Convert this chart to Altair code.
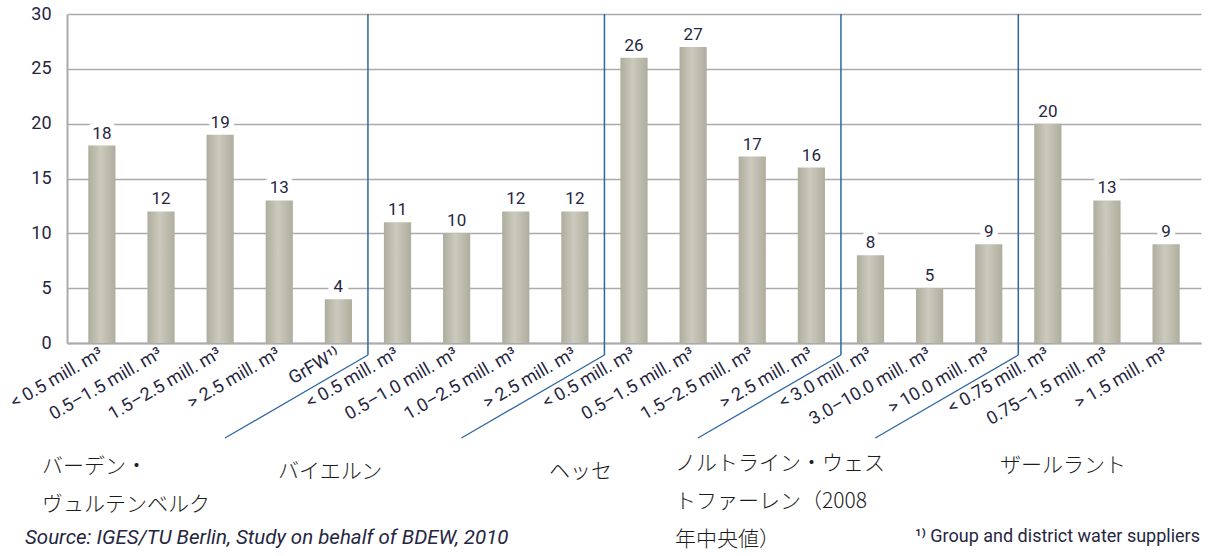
import altair as alt
import pandas as pd

# Federal states (display text with manual line breaks)
state_lines = [
    "バーデン・\nヴュルテンベルク",
    "バイエルン",
    "ヘッセ",
    "ノルトライン・ウェス\nトファーレン（2008\n年中央値）",
    "ザールラント",
]

# Supplier size classes per state
bw_classes = ["< 0.5 mill. m³", "0.5–1.5 mill. m³", "1.5–2.5 mill. m³", "> 2.5 mill. m³", "GrFW¹⁾"]
by_classes = ["< 0.5 mill. m³", "0.5–1.0 mill. m³", "1.0–2.5 mill. m³", "> 2.5 mill. m³"]
he_classes = ["< 0.5 mill. m³", "0.5–1.5 mill. m³", "1.5–2.5 mill. m³", "> 2.5 mill. m³"]
nw_classes = ["< 3.0 mill. m³", "3.0–10.0 mill. m³", "> 10.0 mill. m³"]
sl_classes = ["< 0.75 mill. m³", "0.75–1.5 mill. m³", "> 1.5 mill. m³"]

# Values per size class
bw_values = [18, 12, 19, 13, 4]
by_values = [11, 10, 12, 12]
he_values = [26, 27, 17, 16]
nw_values = [8, 5, 9]
sl_values = [20, 13, 9]

y_ticks = [0, 5, 10, 15, 20, 25, 30]

source_text = "Source: IGES/TU Berlin, Study on behalf of BDEW, 2010"
footnote_text = "¹⁾ Group and district water suppliers"

groups = [
    (bw_classes, bw_values),
    (by_classes, by_values),
    (he_classes, he_values),
    (nw_classes, nw_values),
    (sl_classes, sl_values),
]

rows = []
i = 0
for g, (classes, values) in enumerate(groups):
    for j, (c, v) in enumerate(zip(classes, values)):
        rows.append({
            "key": f"{i:02d}|{c}",
            "value": v,
            "group": g,
            "sep": g > 0 and j == 0,
        })
        i += 1
df = pd.DataFrame(rows)

# ---- layout ----
W, H = 1134, 329
P_INNER, P_OUTER = 0.54, 0.36
step = W / (len(df) - P_INNER + 2 * P_OUTER)
half_step = step / 2

TEXT = "#26263f"
GRID = "#ababab"
BLUE = "#2d67a0"
LATIN = "Roboto, sans-serif"
CJK = "Noto Sans CJK JP"

x_enc = alt.X(
    "key:N",
    sort=None,
    scale=alt.Scale(paddingInner=P_INNER, paddingOuter=P_OUTER),
    axis=alt.Axis(
        title=None,
        labelExpr="split(datum.value, '|')[1]",
        labelAngle=330,
        labelAlign="right",
        labelBaseline="middle",
        labelPadding=9,
        labelOverlap=False,
        labelFont=LATIN,
        labelFontSize=18,
        labelColor=TEXT,
        ticks=False,
        domainColor=GRID,
        domainWidth=2,
    ),
)
y_enc = alt.Y(
    "value:Q",
    scale=alt.Scale(domain=[0, 30], nice=False),
    axis=alt.Axis(
        title=None,
        values=y_ticks,
        grid=True,
        gridColor=GRID,
        gridWidth=1.6,
        ticks=False,
        domainColor=GRID,
        domainWidth=2,
        labelPadding=16,
        labelFont=LATIN,
        labelFontSize=18,
        labelColor=TEXT,
    ),
)

base = alt.Chart(df)

bars = base.mark_bar(
    color=alt.Gradient(
        gradient="linear",
        x1=0, x2=1, y1=0, y2=0,
        stops=[
            alt.GradientStop(color="#afad9d", offset=0),
            alt.GradientStop(color="#cccabd", offset=0.45),
            alt.GradientStop(color="#afad9d", offset=1),
        ],
    )
).encode(x=x_enc, y=y_enc)

# white halo behind value labels interrupts the grid lines
halo = base.mark_text(
    baseline="bottom", dy=-3, font=LATIN, fontSize=17,
    color="white", stroke="white", strokeWidth=11, strokeJoin="round",
).encode(x="key:N", y="value:Q", text="value:Q")

labels = base.mark_text(
    baseline="bottom", dy=-3, font=LATIN, fontSize=17, color=TEXT,
).encode(x="key:N", y="value:Q", text="value:Q")

# state separators: vertical line between groups and a slanted tail below the axis
sep_v = base.transform_filter("datum.sep").mark_rule(
    color=BLUE, strokeWidth=1.5, xOffset=-half_step
).encode(x="key:N", y=alt.value(0), y2=alt.value(341))

sep_d = base.transform_filter("datum.sep").mark_rule(
    color=BLUE, strokeWidth=1.3, xOffset=-half_step, x2Offset=-half_step - 143
).encode(x="key:N", x2=alt.X2("key"), y=alt.value(341), y2=alt.value(424))

# state names below the chart
state_pos = [(-25, 459), (211, 464), (482, 464), (608, 456), (933, 458)]
state_layers = []
for name, (px, py) in zip(state_lines, state_pos):
    state_layers.append(
        alt.Chart(pd.DataFrame({"t": [name]})).mark_text(
            align="left", baseline="alphabetic", font=CJK, fontSize=21,
            fontWeight=300, color="#1c1c1c", lineBreak="\n", lineHeight=38,
        ).encode(text="t:N", x=alt.value(px), y=alt.value(py))
    )

source = alt.Chart(pd.DataFrame({"t": [source_text]})).mark_text(
    align="left", baseline="alphabetic", font=LATIN, fontSize=20.5,
    fontStyle="italic", color=TEXT,
).encode(text="t:N", x=alt.value(-42), y=alt.value(530))

footnote = alt.Chart(pd.DataFrame({"t": [footnote_text]})).mark_text(
    align="right", baseline="alphabetic", font=LATIN, fontSize=18, color=TEXT,
).encode(text="t:N", x=alt.value(1133), y=alt.value(528))

chart = alt.layer(
    bars, halo, labels, sep_v, sep_d, *state_layers, source, footnote
).properties(
    width=W,
    height=H,
    padding={"left": 67, "top": 14, "right": 9, "bottom": 213},
    autosize=alt.AutoSizeParams(type="none"),
    background="white",
).configure_view(stroke=None)

chart.save("out.html", embed_options={"renderer": "svg", "actions": False})
